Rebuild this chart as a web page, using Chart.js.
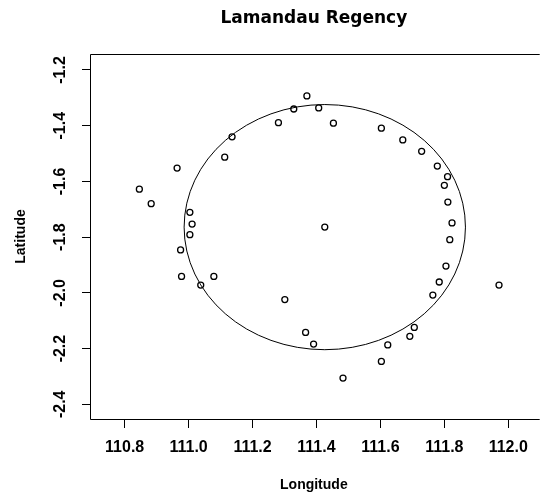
<!DOCTYPE html>
<html>
<head>
<meta charset="utf-8">
<title>Lamandau Regency</title>
<script src="https://cdn.jsdelivr.net/npm/chart.js@4.4.1/dist/chart.umd.min.js"></script>
<style>
  body { margin: 0; background: #fff; }
  canvas { display: block; }
</style>
</head>
<body>
<canvas id="myChart" width="542" height="495"></canvas>
<script>
// sample points
const longitude = [
  111.370, 111.329, 111.407, 111.281, 111.453, 111.136, 111.603, 111.670,
  111.729, 111.113, 110.964, 111.778, 111.810, 111.800, 110.846, 110.883,
  111.811, 111.004, 111.011, 111.824, 111.426, 111.004, 111.817, 110.975,
  111.805, 110.978, 111.079, 111.038, 111.784, 111.971, 111.764, 111.301,
  111.706, 111.692, 111.366, 111.391, 111.623, 111.603, 111.483
]
const latitude = [
  -1.293, -1.340, -1.336, -1.389, -1.391, -1.440, -1.409, -1.451,
  -1.492, -1.513, -1.552, -1.545, -1.583, -1.614, -1.628, -1.680,
  -1.674, -1.711, -1.753, -1.749, -1.764, -1.791, -1.809, -1.846,
  -1.904, -1.941, -1.941, -1.972, -1.961, -1.972, -2.008, -2.024,
  -2.124, -2.156, -2.142, -2.184, -2.187, -2.246, -2.306
]

// circle around the centre point
const centerLon = 111.426
const centerLat = -1.764
const radiusDeg = 0.44

const xTicks = [110.8, 111.0, 111.2, 111.4, 111.6, 111.8, 112.0]
const yTicks = [-1.2, -1.4, -1.6, -1.8, -2.0, -2.2, -2.4]

const points = longitude.map((lon, i) => ({ x: lon, y: latitude[i] }))

const circlePlugin = {
  id: 'circleAndBox',
  afterDatasetsDraw(chart) {
    const { ctx, chartArea, scales: { x, y } } = chart
    const cx = x.getPixelForValue(centerLon)
    const cy = y.getPixelForValue(centerLat)
    const rx = Math.abs(x.getPixelForValue(centerLon + radiusDeg) - cx)
    const ry = Math.abs(y.getPixelForValue(centerLat + radiusDeg) - cy)

    ctx.save()
    ctx.strokeStyle = '#000'
    ctx.lineWidth = 1
    ctx.beginPath()
    ctx.ellipse(cx, cy, rx, ry, 0, 0, Math.PI * 2)
    ctx.stroke()

    // plot box (right side is cut off in the picture)
    const l = Math.round(chartArea.left) + 0.5
    const t = Math.round(chartArea.top) + 0.5
    const b = Math.round(chartArea.bottom) + 0.5
    ctx.beginPath()
    ctx.moveTo(chartArea.right + 2, t)
    ctx.lineTo(l, t)
    ctx.lineTo(l, b)
    ctx.lineTo(chartArea.right + 2, b)
    ctx.stroke()
    ctx.restore()
  }
}

const tickFont = { family: 'Liberation Sans, Arial, sans-serif', size: 16, weight: 'bold' }
const titleFont = { family: 'Liberation Sans, Arial, sans-serif', size: 14, weight: 'bold' }

new Chart(document.getElementById('myChart'), {
  type: 'scatter',
  data: {
    datasets: [
      {
        data: points,
        pointStyle: 'circle',
        pointRadius: 3,
        pointHoverRadius: 3,
        borderWidth: 1.3,
        borderColor: '#000',
        backgroundColor: 'rgba(0,0,0,0)'
      }
    ]
  },
  options: {
    responsive: false,
    animation: false,
    layout: { padding: 0 },
    plugins: {
      legend: { display: false },
      tooltip: { enabled: false },
      title: {
        display: true,
        text: 'Lamandau Regency',
        color: '#000',
        fullSize: false,
        font: { family: 'DejaVu Sans, sans-serif', size: 17, weight: 'bold' },
        padding: { top: 8, bottom: 25.6 }
      }
    },
    scales: {
      x: {
        type: 'linear',
        min: 110.6916,
        max: 112.092,
        afterBuildTicks: scale => {
          scale.ticks = xTicks.map(v => ({ value: v }))
        },
        afterFit: scale => {
          scale.height = 76
        },
        grid: {
          display: true,
          drawOnChartArea: false,
          drawTicks: true,
          tickLength: 9,
          color: '#000'
        },
        border: { display: false },
        ticks: {
          color: '#000',
          font: tickFont,
          padding: 10,
          maxRotation: 0,
          autoSkip: false,
          callback: v => v.toFixed(1)
        },
        title: {
          display: true,
          text: 'Longitude',
          color: '#000',
          font: titleFont,
          padding: { top: 0, bottom: 1 }
        }
      },
      y: {
        type: 'linear',
        min: -2.4528,
        max: -1.1426,
        afterBuildTicks: scale => {
          scale.ticks = yTicks.map(v => ({ value: v }))
        },
        afterFit: scale => {
          scale.width = 90
        },
        grid: {
          display: true,
          drawOnChartArea: false,
          drawTicks: true,
          tickLength: 8,
          color: '#000'
        },
        border: { display: false },
        ticks: {
          color: '#000',
          font: tickFont,
          padding: 8,
          minRotation: 90,
          maxRotation: 90,
          crossAlign: 'center',
          autoSkip: false,
          callback: v => v.toFixed(1)
        },
        title: {
          display: true,
          text: 'Latitude',
          color: '#000',
          font: titleFont,
          padding: { top: 13, bottom: 0 }
        }
      }
    }
  },
  plugins: [circlePlugin]
})
</script>
</body>
</html>
